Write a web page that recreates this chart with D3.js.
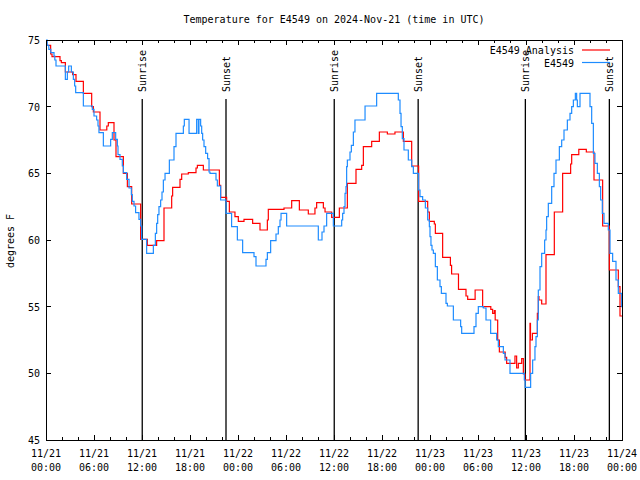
<!DOCTYPE html>
<html>
<head>
<meta charset="utf-8">
<script src="https://cdn.jsdelivr.net/npm/d3@7"></script>
<style>
  body { margin: 0; background: #fff; }
  svg text { font-family: "DejaVu Sans Mono", "Liberation Mono", monospace; font-size: 10px; fill: #000; }
</style>
</head>
<body>
<svg id="chart" width="640" height="480"></svg>
<script>
// ---- data (hours since 2024-11-21 00:00 UTC, degrees F) ----
const titleText = "Temperature for E4549 on 2024-Nov-21 (time in UTC)";
const yLabel = "degrees F";
const seriesNames = ["E4549 Analysis", "E4549"];
const seriesColors = ["#ff0000", "#1e8cff"];

const xTickHours = [0, 6, 12, 18, 24, 30, 36, 42, 48, 54, 60, 66, 72];
const xTickLabels = [
  ["11/21","00:00"],["11/21","06:00"],["11/21","12:00"],["11/21","18:00"],
  ["11/22","00:00"],["11/22","06:00"],["11/22","12:00"],["11/22","18:00"],
  ["11/23","00:00"],["11/23","06:00"],["11/23","12:00"],["11/23","18:00"],
  ["11/24","00:00"]
];
const yTicks = [45, 50, 55, 60, 65, 70, 75];

const sunHours = [12.03, 22.5, 36.03, 46.52, 59.92, 70.42];
const sunLabels = ["Sunrise", "Sunset", "Sunrise", "Sunset", "Sunrise", "Sunset"];

const analysisHours = [0,0.08,0.58,0.75,1.75,1.92,2.42,3.33,3.75,4.67,5.71,5.92,6.75,7.6,7.79,8.5,8.75,9.67,10.17,10.71,11.83,12.67,13.83,14.75,15.71,15.83,16.75,16.96,17.79,18.75,18.92,19.67,21.67,21.83,22.58,22.92,23.62,24.04,24.75,25.83,26.75,27.67,27.79,29.75,30.71,31.67,32.79,33.62,33.83,34.67,34.88,35.71,36.67,37.67,38.75,39.46,39.67,40.71,41.67,42.67,43.62,44.67,45.71,46.58,47.71,47.92,48.54,48.67,49.58,50.55,50.7,51.56,52.5,52.71,53.64,54.58,55.6,55.83,56.04,56.15,56.46,56.67,57.4,57.58,58.62,58.83,59.04,59.46,59.67,59.88,60.5,60.56,60.8,61.42,61.54,61.62,61.96,62.5,63.54,64.58,65.58,65.71,66.6,67.54,68.5,69.58,70.42,71.54,71.75,72];
const analysisTemps = [74.9,74.6,73.95,73.75,73.45,73.3,72.6,72.4,71.9,71.0,70.0,69.6,68.25,68.55,68.8,67.5,66.25,65.0,64.0,62.7,60.05,59.6,59.95,62.4,63.3,63.95,64.55,64.95,65.05,65.4,65.6,65.25,64.1,63.2,62.9,62.1,61.75,61.4,61.55,61.25,60.75,61.5,62.3,62.4,62.95,62.25,61.95,62.4,62.8,62.4,62.1,61.7,62.4,64.25,65.3,65.6,67.0,67.4,68.1,67.95,68.1,67.4,65.55,62.9,62.1,61.4,61.2,60.5,58.7,58.1,57.45,56.3,55.8,55.55,56.25,55.0,54.8,54.5,54.7,54.0,52.5,51.6,51.2,50.75,51.3,50.4,50.75,51.1,49.95,49.5,53.75,52.5,53.0,54.5,55.75,55.5,55.2,58.9,62.1,65.0,65.7,66.4,66.8,66.6,64.5,61.05,57.75,56.5,54.3,54.3];

const obsHours = [0,0.15,0.35,0.6,1.0,1.1,1.25,2.42,2.67,2.83,3.17,3.42,3.58,3.71,4.67,5.79,6.0,6.33,6.5,6.62,7.17,8.08,8.29,8.71,8.92,9.0,9.25,9.54,9.67,10.08,10.38,10.67,10.79,11.0,11.2,11.62,11.83,11.96,12.58,13.42,13.67,13.83,13.96,14.12,14.33,14.5,14.67,14.88,15.42,16.0,16.25,17.17,17.29,17.88,18.83,19.04,19.12,19.33,19.46,19.58,19.75,19.96,20.2,20.38,20.5,21.25,21.42,21.83,22.5,23.2,23.92,24.58,26.0,26.25,27.5,27.67,28.08,28.75,29.04,29.25,29.38,30.08,34.04,34.5,34.75,35.08,35.92,36.96,37.08,37.25,37.38,37.5,37.58,37.67,38.0,38.17,38.42,38.62,39.88,41.33,44.04,44.25,44.38,44.54,44.75,45.29,45.71,45.92,46.58,46.75,47.08,47.42,47.71,47.92,48.0,48.12,48.25,48.42,48.67,48.92,49.25,49.42,50.0,50.17,50.92,51.83,51.96,53.5,53.75,54.04,54.67,55.0,55.58,56.33,56.54,57.17,57.38,58.0,59.79,59.9,60.58,60.83,61.12,61.25,61.42,61.54,61.75,61.96,62.33,62.5,62.58,62.79,63.21,63.5,63.75,64.17,64.46,64.75,65.17,65.5,65.71,65.92,66.17,66.33,66.42,66.75,68.0,68.21,68.42,68.62,68.92,69.17,69.33,69.54,69.75,70.29,70.5,70.83,71.25,71.54,71.96,72];
const obsTemps = [75.0,74.6,74.3,74.05,73.8,73.5,73.05,72.05,72.6,73.05,72.6,72.05,71.55,71.05,70.05,69.8,69.3,69.0,68.55,68.05,67.05,67.55,68.05,67.55,67.05,66.4,66.05,65.55,65.05,64.55,63.9,63.4,62.9,62.55,62.05,61.55,61.05,60.05,59.0,59.6,60.5,61.25,61.9,62.5,63.0,63.6,64.5,65.0,66.0,67.0,68.0,68.55,69.05,68.0,69.05,68.0,69.05,68.55,68.0,67.5,67.0,66.5,66.1,65.1,65.0,64.5,64.05,63.0,62.0,61.0,60.0,59.05,58.75,58.05,58.55,59.05,59.95,60.45,61.0,61.5,62.0,61.05,60.0,60.6,61.05,62.0,61.05,61.5,62.0,62.5,63.5,64.0,65.5,66.0,66.6,67.1,68.1,69.0,70.05,71.0,70.5,69.5,68.5,67.6,66.75,66.0,65.5,65.0,63.75,63.25,63.0,62.4,61.5,61.0,60.25,59.6,59.25,59.0,58.0,57.0,56.5,56.0,55.25,55.05,54.0,53.5,53.0,53.5,54.5,55.0,54.9,54.0,53.0,52.5,52.0,51.5,51.0,50.0,49.5,48.95,50.0,51.0,52.0,52.75,54.0,56.25,58.0,59.0,60.0,60.75,61.75,62.75,64.0,65.0,66.0,67.0,67.5,68.25,69.0,69.5,70.0,70.5,71.0,70.5,70.0,71.0,70.0,68.75,66.5,65.75,65.0,64.0,63.0,62.0,61.25,60.75,59.0,58.4,57.0,56.0,55.0,55.0];

// ---- layout ----
const svg = d3.select("#chart");
const L = 46, R = 622, T = 40, B = 440;
const x = d3.scaleLinear().domain([0, 72]).range([L, R]);
const y = d3.scaleLinear().domain([45, 75]).range([B, T]);

// title
svg.append("text").attr("x", 334).attr("y", 23).attr("text-anchor", "middle").text(titleText);
// y label
svg.append("text").attr("transform", "translate(14,241) rotate(-90)").attr("text-anchor", "middle").text(yLabel);

// axes (ticks inward, mirrored)
const minorHours = d3.range(0, 73, 2).filter(h => h % 6 !== 0);
const g = svg.append("g").attr("stroke", "#000").attr("stroke-width", 1).attr("shape-rendering", "crispEdges");
xTickHours.forEach(h => {
  g.append("line").attr("x1", x(h)).attr("x2", x(h)).attr("y1", B).attr("y2", B - 5);
  g.append("line").attr("x1", x(h)).attr("x2", x(h)).attr("y1", T).attr("y2", T + 5);
});
minorHours.forEach(h => {
  g.append("line").attr("x1", x(h)).attr("x2", x(h)).attr("y1", B).attr("y2", B - 3);
  g.append("line").attr("x1", x(h)).attr("x2", x(h)).attr("y1", T).attr("y2", T + 3);
});
yTicks.forEach(v => {
  g.append("line").attr("x1", L).attr("x2", L + 5).attr("y1", y(v)).attr("y2", y(v));
  g.append("line").attr("x1", R).attr("x2", R - 5).attr("y1", y(v)).attr("y2", y(v));
});

// tick labels
xTickHours.forEach((h, i) => {
  const t = svg.append("text").attr("text-anchor", "middle");
  t.append("tspan").attr("x", x(h)).attr("y", 457).text(xTickLabels[i][0]);
  t.append("tspan").attr("x", x(h)).attr("y", 471).text(xTickLabels[i][1]);
});
yTicks.forEach(v => {
  svg.append("text").attr("x", 40).attr("y", y(v) + 4).attr("text-anchor", "end").text(v);
});

// sunrise / sunset lines
sunHours.forEach((h, i) => {
  svg.append("line").attr("x1", x(h)).attr("x2", x(h)).attr("y1", 99).attr("y2", B)
    .attr("stroke", "#000").attr("stroke-width", 1.3);
  svg.append("text").attr("transform", `translate(${x(h) + 4},92) rotate(-90)`)
    .attr("text-anchor", "start").text(sunLabels[i]);
});

// series
const line = d3.line().x(d => x(d[0])).y(d => y(d[1])).curve(d3.curveStepAfter);
const series = [
  d3.zip(analysisHours, analysisTemps),
  d3.zip(obsHours, obsTemps)
];
series.forEach((s, i) => {
  svg.append("path").datum(s).attr("d", line).attr("fill", "none")
    .attr("stroke", seriesColors[i]).attr("stroke-width", 1.2);
});

// legend
seriesNames.forEach((n, i) => {
  const ly = 50 + i * 12.5;
  svg.append("text").attr("x", 574).attr("y", ly + 4).attr("text-anchor", "end").text(n);
  svg.append("line").attr("x1", 582).attr("x2", 610).attr("y1", ly).attr("y2", ly)
    .attr("stroke", seriesColors[i]).attr("stroke-width", 1.2);
});

// frame
svg.append("rect").attr("x", L).attr("y", T).attr("width", R - L).attr("height", B - T)
  .attr("fill", "none").attr("stroke", "#000").attr("stroke-width", 1).attr("shape-rendering", "crispEdges");
</script>
</body>
</html>
